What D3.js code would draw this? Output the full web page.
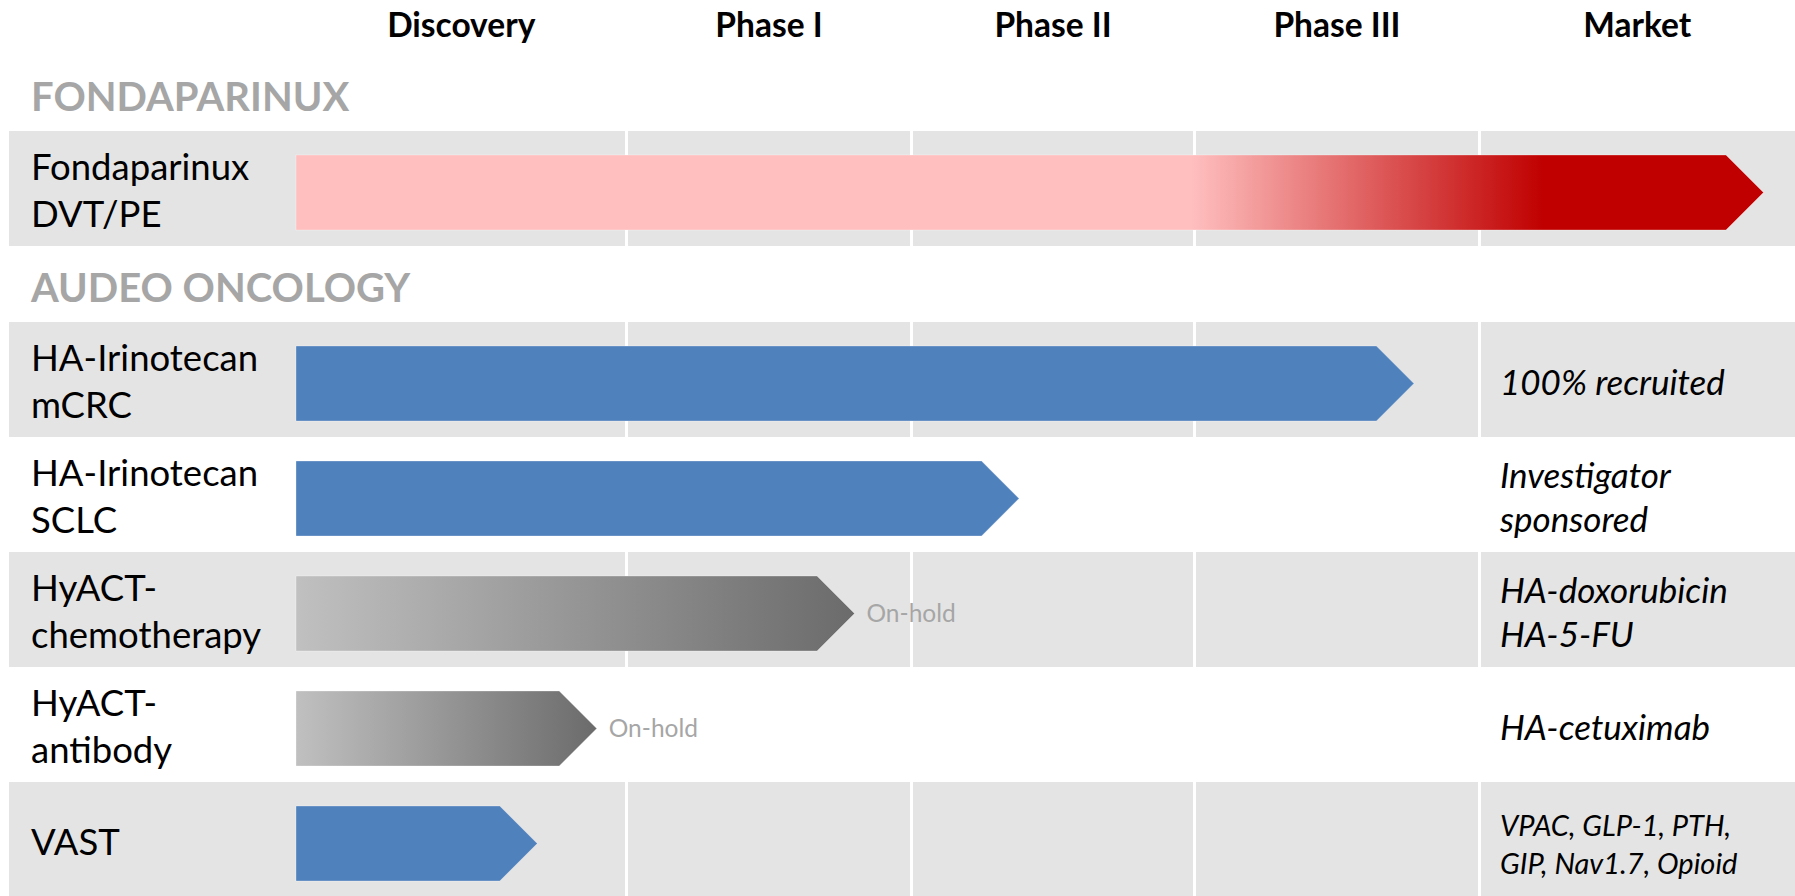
<!DOCTYPE html>
<html>
<head>
<meta charset="utf-8">
<script src="https://cdn.jsdelivr.net/npm/d3@7"></script>
<style>
  body { margin: 0; background: #fff; }
  text { font-family: Lato, "Open Sans", sans-serif; }
</style>
</head>
<body>
<div id="pipeline"></div>
<script>
// pipeline data
var phases = ["Discovery", "Phase I", "Phase II", "Phase III", "Market"];
var sections = ["FONDAPARINUX", "AUDEO ONCOLOGY"];
var programs = [["Fondaparinux", "DVT/PE"], ["HA-Irinotecan", "mCRC"], ["HA-Irinotecan", "SCLC"],
                ["HyACT-", "chemotherapy"], ["HyACT-", "antibody"], ["VAST"]];
var programSection = [0, 1, 1, 1, 1, 1];
var progress = [4.9, 3.77, 2.38, 1.8, 0.91, 0.73]; // phase units reached
var barKind = ["fade", "blue", "blue", "grey", "grey", "blue"];
var holdLabels = ["", "", "", "On-hold", "On-hold", ""];
var notes = [[], ["100% recruited"], ["Investigator", "sponsored"], ["HA-doxorubicin", "HA-5-FU"],
             ["HA-cetuximab"], ["VPAC, GLP-1, PTH,", "GIP, Nav1.7, Opioid"]];

var W = 1795, H = 896;
var rowH = 115, sectionH = 76, barH = 75, tipW = 37.5;

var svg = d3.select("#pipeline").append("svg")
    .attr("width", W)
    .attr("height", H);

// phase boundaries (discovery column is wider)
var x = d3.scaleLinear()
    .domain([0, 1, 2, 3, 4, 5])
    .range([296, 626.5, 911.5, 1194.5, 1479.5, 1795]);

var defs = svg.append("defs");
var fade = defs.append("linearGradient").attr("id", "fade");
fade.append("stop").attr("offset", 0).attr("stop-color", "#FFBFBF");
fade.append("stop").attr("offset", 0.61).attr("stop-color", "#FFBFBF");
fade.append("stop").attr("offset", 0.85).attr("stop-color", "#C00000");
fade.append("stop").attr("offset", 1).attr("stop-color", "#C00000");
var grey = defs.append("linearGradient").attr("id", "grey");
grey.append("stop").attr("offset", 0).attr("stop-color", "#C0C0C0");
grey.append("stop").attr("offset", 1).attr("stop-color", "#6B6B6B");

var fills = {fade: "url(#fade)", blue: "#4F81BD", grey: "url(#grey)"};

// row positions
var rowTop = [], secTop = [];
var y = 131;
programs.forEach(function(p, i) {
  if (i > 0 && programSection[i] != programSection[i - 1]) y += sectionH;
  if (i == 0 || programSection[i] != programSection[i - 1]) secTop.push(y - sectionH);
  rowTop.push(y);
  y += rowH;
});
var shaded = programs.map(function(p, i) {
  var first = programSection.indexOf(programSection[i]);
  return (i - first) % 2 == 0;
});

// header
svg.selectAll(".phase")
    .data(phases)
  .enter().append("text")
    .attr("class", "phase")
    .attr("x", function(d, i) { return (x(i) + x(i + 1)) / 2; })
    .attr("y", 37)
    .attr("text-anchor", "middle")
    .style("font-weight", "bold")
    .style("font-size", "33.5px")
    .text(function(d) { return d; });

// section titles
svg.selectAll(".section")
    .data(sections)
  .enter().append("text")
    .attr("class", "section")
    .attr("x", 31)
    .attr("y", function(d, i) { return secTop[i] + 56; })
    .style("font-weight", "bold")
    .style("font-size", "40px")
    .style("fill", "#A6A6A6")
    .text(function(d) { return d; });

var rows = svg.selectAll(".row")
    .data(programs)
  .enter().append("g")
    .attr("class", "row")
    .attr("transform", function(d, i) { return "translate(0," + rowTop[i] + ")"; });

// grey cells with white dividers
rows.filter(function(d, i) { return shaded[i]; })
  .selectAll("rect")
    .data([0, 1, 2, 3, 4])
  .enter().append("rect")
    .attr("x", function(k) { return k == 0 ? 9 : x(k) + 1.5; })
    .attr("width", function(k) { return (k == 4 ? W : x(k + 1) - 1.5) - (k == 0 ? 9 : x(k) + 1.5); })
    .attr("y", 0)
    .attr("height", rowH)
    .style("fill", "#E4E4E4");

// arrows
rows.append("path")
    .attr("d", function(d, i) {
      var x0 = x(0), x1 = x(progress[i]), t = 24, b = t + barH;
      return "M" + x0 + "," + t + "H" + (x1 - tipW) + "L" + x1 + "," + (t + barH / 2) +
             "L" + (x1 - tipW) + "," + b + "H" + x0 + "Z";
    })
    .style("fill", function(d, i) { return fills[barKind[i]]; })
    .style("stroke", "rgba(255,255,255,0.3)")
    .style("stroke-width", 1);

rows.append("text")
    .attr("x", function(d, i) { return x(progress[i]) + 12; })
    .attr("y", 24 + barH / 2 + 8)
    .style("font-size", "24.5px")
    .style("fill", "#A6A6A6")
    .text(function(d, i) { return holdLabels[i]; });

// program names
rows.append("text")
    .attr("class", "label")
    .style("font-size", "36.5px")
  .selectAll("tspan")
    .data(function(d) { return d; })
  .enter().append("tspan")
    .attr("x", 31)
    .attr("y", function(t, j) {
      var n = d3.select(this.parentNode).datum().length;
      return rowH / 2 + 15 + (j - (n - 1) / 2) * 47;
    })
    .text(function(t) { return t; });

// market notes
rows.append("text")
    .attr("class", "note")
    .style("font-style", "italic")
    .style("font-size", function(d, i) { return i == 5 ? "29px" : "35px"; })
  .selectAll("tspan")
    .data(function(d, i) { return notes[i].map(function(t) { return {t: t, n: notes[i].length, small: i == 5}; }); })
  .enter().append("tspan")
    .attr("x", 1500)
    .attr("y", function(o, j) {
      var gap = o.small ? 38 : 44;
      return rowH / 2 + 15 + (j - (o.n - 1) / 2) * gap;
    })
    .text(function(o) { return o.t; });
</script>
</body>
</html>
